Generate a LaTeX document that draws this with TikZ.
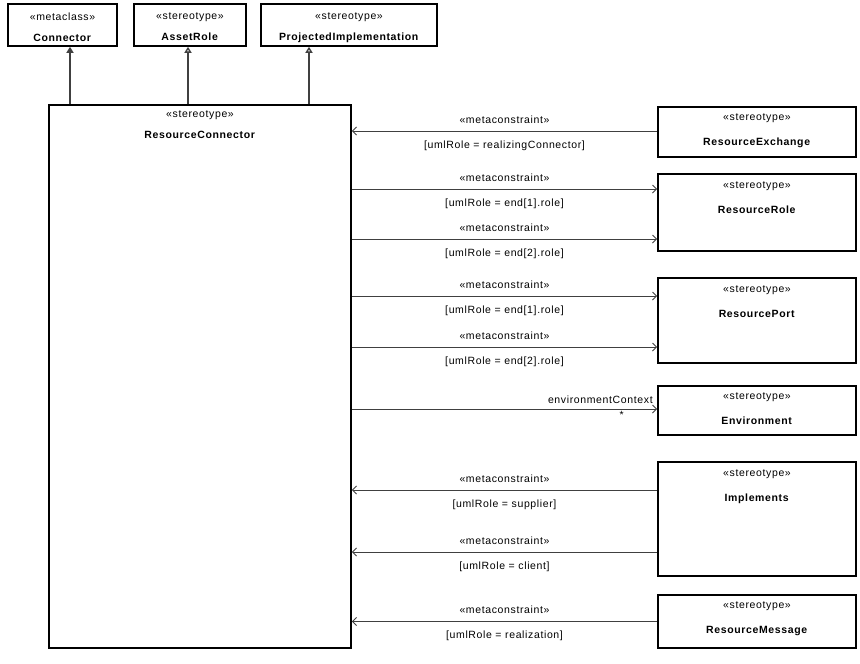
\documentclass[tikz,border=0pt]{standalone}
\usepackage{fontspec}
\setmainfont{Liberation Sans}[LetterSpace=6]
\usetikzlibrary{arrows.meta,positioning}
\tikzset{
  box/.style={draw, line width=1.6pt, rectangle, inner sep=0pt},
  ttl/.style={align=center, anchor=north, inner sep=0pt, font=\fontsize{10.5}{25}\selectfont},
  assoc/.style={draw=black!75, line width=1pt, -{Straight Barb[length=4pt,width=8pt]}},
  gen/.style={draw=black!75, line width=1.4pt, -{Triangle[open,length=6pt,width=7pt]}},
  ext/.style={draw=black!75, line width=1.4pt, -{Triangle[length=6pt,width=7pt]}},
  lbl/.style={font=\fontsize{10.5}{12}\selectfont, inner sep=1pt}
}
\newcommand{\stt}{«stereotype»}
\begin{document}
\begin{tikzpicture}[x=1pt,y=-1pt]
\useasboundingbox (0,0) rectangle (860,664);
% top row
\node[box, minimum width=109pt, minimum height=42pt] (con) at (62.5,25) {};
\node[box, minimum width=112pt, minimum height=42pt] (ar) at (190,25) {};
\node[box, minimum width=176pt, minimum height=42pt] (pi) at (349,25) {};
\node[ttl, font=\fontsize{10.5}{21}\selectfont] (conT) at ([yshift=-9pt]con.north) {«metaclass»\\\textbf{Connector}};
\node[ttl, font=\fontsize{10.5}{21}\selectfont] (arT) at ([yshift=-9pt]ar.north) {\stt\\\textbf{AssetRole}};
\node[ttl, font=\fontsize{10.5}{21}\selectfont] (piT) at ([yshift=-9pt]pi.north) {\stt\\\textbf{ProjectedImplementation}};
% main stereotype
\node[box, minimum width=302pt, minimum height=543pt] (rc) at (200,376.5) {};
\node[ttl, font=\fontsize{10.5}{21}\selectfont] (rcT) at ([yshift=-6pt]rc.north) {\stt\\\textbf{ResourceConnector}};
% right column
\node[box, minimum width=198pt, minimum height=50pt] (re) at (757,132) {};
\node[box, minimum width=198pt, minimum height=77pt] (rr) at (757,212.5) {};
\node[box, minimum width=198pt, minimum height=85pt] (rp) at (757,320.5) {};
\node[box, minimum width=198pt, minimum height=49pt] (env) at (757,410.5) {};
\node[box, minimum width=198pt, minimum height=114pt] (imp) at (757,519) {};
\node[box, minimum width=198pt, minimum height=53pt] (rm) at (757,621.5) {};
\node[ttl] (reT) at ([yshift=-7pt]re.north) {\stt\\\textbf{ResourceExchange}};
\node[ttl] (rrT) at ([yshift=-8pt]rr.north) {\stt\\\textbf{ResourceRole}};
\node[ttl] (rpT) at ([yshift=-8pt]rp.north) {\stt\\\textbf{ResourcePort}};
\node[ttl] (envT) at ([yshift=-7pt]env.north) {\stt\\\textbf{Environment}};
\node[ttl] (impT) at ([yshift=-8pt]imp.north) {\stt\\\textbf{Implements}};
\node[ttl] (rmT) at ([yshift=-7pt]rm.north) {\stt\\\textbf{ResourceMessage}};
% generalizations
\draw[ext] ([xshift=7.5pt]con.south |- rc.north) -- ([xshift=7.5pt]con.south);
\draw[gen] ([xshift=-2pt]ar.south |- rc.north) -- ([xshift=-2pt]ar.south);
\draw[gen] ([xshift=-40pt]pi.south |- rc.north) -- ([xshift=-40pt]pi.south);
% associations
\draw[assoc] ([yshift=1pt]re.west) -- ([yshift=1pt]re.west -| rc.east)
  node[lbl, midway, above=6pt] {«metaconstraint»}
  node[lbl, midway, below=8pt] {[umlRole = realizingConnector]};
\draw[assoc] ([yshift=23.5pt]rr.west -| rc.east) -- ([yshift=23.5pt]rr.west)
  node[lbl, midway, above=6pt] {«metaconstraint»}
  node[lbl, midway, below=8pt] {[umlRole = end[1].role]};
\draw[assoc] ([yshift=-26.5pt]rr.west -| rc.east) -- ([yshift=-26.5pt]rr.west)
  node[lbl, midway, above=6pt] {«metaconstraint»}
  node[lbl, midway, below=8pt] {[umlRole = end[2].role]};
\draw[assoc] ([yshift=24.5pt]rp.west -| rc.east) -- ([yshift=24.5pt]rp.west)
  node[lbl, midway, above=6pt] {«metaconstraint»}
  node[lbl, midway, below=8pt] {[umlRole = end[1].role]};
\draw[assoc] ([yshift=-26.5pt]rp.west -| rc.east) -- ([yshift=-26.5pt]rp.west)
  node[lbl, midway, above=6pt] {«metaconstraint»}
  node[lbl, midway, below=8pt] {[umlRole = end[2].role]};
\draw[assoc] ([yshift=1.5pt]env.west -| rc.east) -- ([yshift=1.5pt]env.west)
  node[lbl, pos=1, above left=4pt and 3pt] {environmentContext}
  node[lbl, pos=1, below left=1pt and 32pt] {*};
\draw[assoc] ([yshift=29pt]imp.west) -- ([yshift=29pt]imp.west -| rc.east)
  node[lbl, midway, above=6pt] {«metaconstraint»}
  node[lbl, midway, below=8pt] {[umlRole = supplier]};
\draw[assoc] ([yshift=-33pt]imp.west) -- ([yshift=-33pt]imp.west -| rc.east)
  node[lbl, midway, above=6pt] {«metaconstraint»}
  node[lbl, midway, below=8pt] {[umlRole = client]};
\draw[assoc] (rm.west) -- (rm.west -| rc.east)
  node[lbl, midway, above=6pt] {«metaconstraint»}
  node[lbl, midway, below=8pt] {[umlRole = realization]};
\end{tikzpicture}
\end{document}
